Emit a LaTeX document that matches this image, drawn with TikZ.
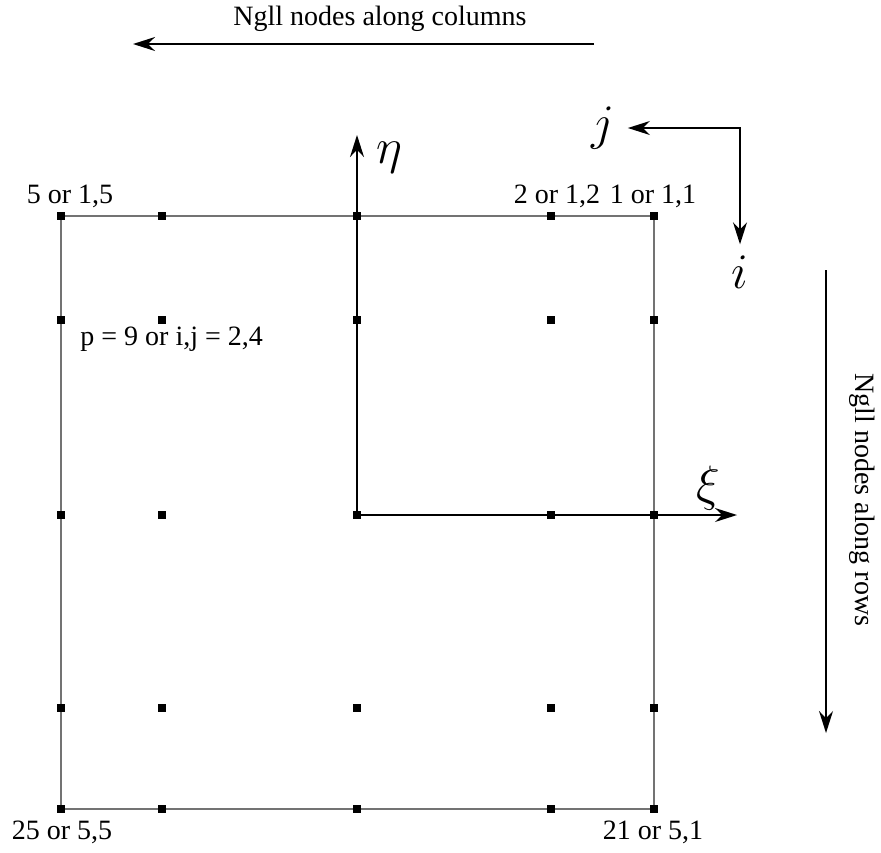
\documentclass[tikz,border=0pt]{standalone}
\usepackage{fontspec}
\setmainfont{Liberation Serif}
\usepackage{amsmath}
\usetikzlibrary{arrows.meta,backgrounds}

\begin{document}
\begin{tikzpicture}[x=0.5pt,y=-0.5pt,
  gll/.style={fill,inner sep=0pt,minimum size=4pt},
  lbl/.style={font=\fontsize{14}{17}\selectfont,inner sep=0pt},
  ax/.style={font=\fontsize{29}{34}\selectfont,inner sep=0pt},
  >={Stealth[length=11pt,width=7pt]}]
\useasboundingbox (0,0) rectangle (881,852);
% GLL points, row r and column c
\foreach \c/\x in {1/654,2/551,3/357,4/162,5/61}
  \foreach \r/\y in {1/216,2/320,3/515,4/708,5/809}
    \node[gll] (n\r\c) at (\x,\y) {};
\begin{pgfonlayer}{background}
\draw[black!55,line width=0.6pt](n11.center)--(n15.center)--(n55.center)--(n51.center)--cycle;
\end{pgfonlayer}
% reference axes
\coordinate (etatip) at (357,135);
\coordinate (xitip) at (737,515);
\draw[->,line width=0.8pt](n33.center)--(etatip);
\draw[->,line width=0.8pt](n33.center)--(xitip);
\node[ax] at(389,158)(eta){$\eta$};
\node[ax] at(708,488)(xi){$\xi$};
% index directions
\node[ax] at(603,128)(j){$j$};
\node[ax] at(740,272)(i){$i$};
\draw[<->,line width=0.8pt,shorten <=6.5pt,shorten >=5.5pt](j)-|(i);
% labels
\node[lbl] at(70,196)(l15){5 or 1,5};
\node[lbl] at(557,196)(l12){2 or 1,2};
\node[lbl] at(653,196)(l11){1 or 1,1};
\node[lbl,anchor=west] at(80,339)(lp){p = 9 or i,j = 2,4};
\node[lbl] at(62,832)(l55){25 or 5,5};
\node[lbl] at(653,832)(l51){21 or 5,1};
% counting directions
\coordinate (colA) at (594,44);
\coordinate (colB) at (133,44);
\draw[->,line width=0.8pt](colA)--(colB);
\node[lbl] at(380,19)(col){Ngll nodes along columns};
\coordinate (rowA) at (826,270);
\coordinate (rowB) at (826,733);
\draw[->,line width=0.8pt](rowA)--(rowB);
\node[lbl,rotate=-90] at(862,500)(row){Ngll nodes along rows};
\end{tikzpicture}
\end{document}
